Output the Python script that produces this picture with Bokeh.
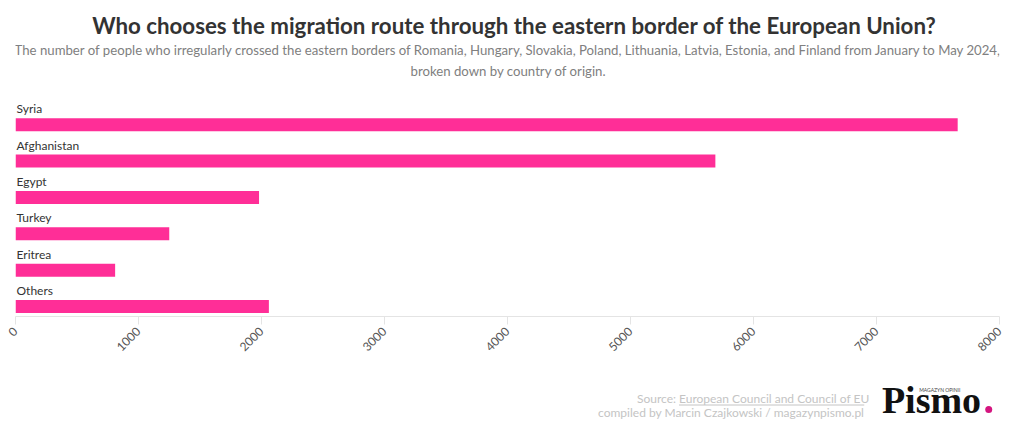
from bokeh.plotting import figure
from bokeh.models import Range1d, FixedTicker, ColumnDataSource
from bokeh.layouts import column
from bokeh.core.properties import value
from bokeh.embed import file_html
from bokeh.resources import INLINE
import math

categories = ["Syria", "Afghanistan", "Egypt", "Turkey", "Eritrea", "Others"]
values = [7660, 5690, 1980, 1250, 810, 2060]
x_ticks = [0, 1000, 2000, 3000, 4000, 5000, 6000, 7000, 8000]

title_text = "Who chooses the migration route through the eastern border of the European Union?"
subtitle_1 = ("The number of people who irregularly crossed the eastern borders of Romania, Hungary, Slovakia, "
              "Poland, Lithuania, Latvia, Estonia, and Finland from January to May 2024,")
subtitle_2 = "broken down by country of origin."
source_prefix = "Source:"
source_link = "European Council and Council of EU"
credit = "compiled by Marcin Czajkowski / magazynpismo.pl"
logo_word = "Pismo"
logo_tag = "MAGAZYN OPINII"

BAR = "#ff2e97"
W = 1004


def blank(height, y_top, y_bottom):
    f = figure(width=W, height=height, output_backend="svg", toolbar_location=None,
               x_axis_location=None, y_axis_location=None,
               x_range=Range1d(0, W), y_range=Range1d(y_bottom, y_top),
               min_border_left=0, min_border_right=0, min_border_top=0, min_border_bottom=0)
    f.grid.visible = False
    f.outline_line_color = None
    return f


# ---- header (y 0..98) ----
head = blank(98, 0, 98)
head.text(x=[509], y=[24.5], text=[title_text], text_font=value("Lato"),
          text_font_style="bold", text_font_size="22.3px", text_color="#333333",
          text_align="center", text_baseline="alphabetic")
head.text(x=[503, 503], y=[49.5, 70.5], text=[subtitle_1, subtitle_2], text_font=value("Lato"),
          text_font_size="13.2px", text_color="#808080", text_align="center", text_baseline="alphabetic")

# ---- chart (y 98..368) ----
n = len(categories)
ypos = [n - 1 - i for i in range(n)]
bar_h = 0.3575
src = ColumnDataSource(dict(cat=categories, val=values, y=ypos,
                            ytop=[y + bar_h / 2 for y in ypos]))

p = figure(width=W, height=270, output_backend="svg", toolbar_location=None,
           x_range=Range1d(0, 8000), y_range=Range1d(-0.275, 5.72),
           min_border_left=15, min_border_right=5, min_border_top=0, min_border_bottom=52)
p.outline_line_color = None
p.grid.visible = False
p.yaxis.visible = False

p.hbar(y="y", left=0, right="val", height=bar_h, source=src, fill_color=BAR, line_color=None)
p.text(x=0, y="ytop", text="cat", source=src, x_offset=1, y_offset=-2,
       text_font=value("Lato"), text_font_size="12px", text_color="#333333",
       text_baseline="bottom", text_align="left")

ax = p.xaxis[0]
ax.ticker = FixedTicker(ticks=x_ticks)
ax.axis_line_color = "#e4e4e4"
ax.major_tick_line_color = "#e4e4e4"
ax.major_tick_out = 8
ax.major_tick_in = 0
ax.minor_tick_line_color = None
ax.major_label_orientation = math.pi / 4
ax.major_label_text_font = "Lato"
ax.major_label_text_font_size = "12px"
ax.major_label_text_color = "#555555"
ax.major_label_standoff = 5

# ---- footer (y 368..427) ----
foot = blank(59, 368, 427)
foot.text(x=[866], y=[412], text=[credit], text_font=value("Lato"),
          text_font_size="12px", text_color="#c4c4c4", text_align="right", text_baseline="alphabetic")
foot.text(x=[677], y=[398], text=[source_link], text_font=value("Lato"),
          text_font_size="12px", text_color="#c4c4c4", text_align="left", text_baseline="alphabetic")
foot.text(x=[674], y=[398], text=[source_prefix], text_font=value("Lato"),
          text_font_size="12px", text_color="#c4c4c4", text_align="right", text_baseline="alphabetic")
foot.segment(x0=[677], x1=[866], y0=[404.5], y1=[404.5], line_color="#c4c4c4", line_width=1)
foot.text(x=[884], y=[399], text=[logo_word], text_font=value("Liberation Serif"),
          text_font_style="bold", text_font_size="38px", text_color="#111111",
          text_align="left", text_baseline="alphabetic")
foot.text(x=[922], y=[389.5], text=[logo_tag], text_font=value("Lato"),
          text_font_size="5px", text_color="#444444", text_align="left", text_baseline="alphabetic")
foot.scatter(x=[993], y=[409], size=7, marker="circle", fill_color="#d4157f", line_color=None)

layout = column(head, p, foot, spacing=0)
open("out.html", "w").write(file_html(layout, INLINE))
